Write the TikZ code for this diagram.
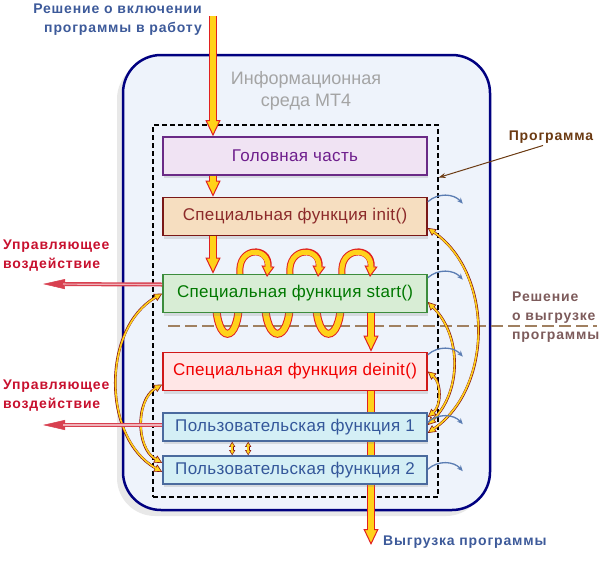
\documentclass[tikz,border=0pt]{standalone}
\usepackage{fontspec}
\setmainfont{Liberation Sans}
\usetikzlibrary{arrows.meta,shadows}

\definecolor{envfill}{HTML}{EEF3FB}
\definecolor{envline}{HTML}{000080}
\definecolor{envtext}{HTML}{A4A4A4}
\definecolor{headfill}{HTML}{F0E3F3}
\definecolor{headline}{HTML}{6A2A86}
\definecolor{headtext}{HTML}{6E1E8C}
\definecolor{initfill}{HTML}{F6DEC0}
\definecolor{initline}{HTML}{7A1818}
\definecolor{inittext}{HTML}{8C2A2A}
\definecolor{startfill}{HTML}{D8EDD5}
\definecolor{startline}{HTML}{3C8C3C}
\definecolor{starttext}{HTML}{007800}
\definecolor{deinitfill}{HTML}{FFE6E6}
\definecolor{deinitline}{HTML}{D01818}
\definecolor{deinittext}{HTML}{F00000}
\definecolor{userfill}{HTML}{D4EFF5}
\definecolor{userline}{HTML}{4A6A9E}
\definecolor{usertext}{HTML}{34579A}
\definecolor{notetext}{HTML}{3D5A9A}
\definecolor{acttext}{HTML}{C8102E}
\definecolor{progtext}{HTML}{6B3A12}
\definecolor{cuttext}{HTML}{7D5B5B}
\definecolor{cutline}{HTML}{A08060}
\definecolor{ribbonfill}{HTML}{FFD21A}
\definecolor{ribbonline}{HTML}{E02020}
\definecolor{retline}{HTML}{5B7DB3}
\definecolor{actline}{HTML}{D84050}

\begin{document}
\begin{tikzpicture}[x=1pt,y=1pt]
        \tikzset{env/.style = {draw=envline, line width=2.5pt, fill=envfill, rounded corners=38pt,
                 minimum width=367pt, minimum height=455pt,
                 drop shadow={opacity=0.18, shadow xshift=-6pt, shadow yshift=-6pt}}};
        \tikzset{envtitle/.style = {text=envtext, align=center, font=\fontsize{18}{22}\selectfont}};
        \tikzset{progbox/.style = {draw, line width=1.3pt, dash pattern=on 5pt off 3pt,
                 minimum width=285pt, minimum height=372pt}};
        \tikzset{block/.style = {draw, line width=1.6pt, minimum width=264pt, minimum height=38pt,
                 font=\fontsize{17}{19}\selectfont\addfontfeatures{LetterSpace=2},
                 drop shadow={opacity=0.22, shadow xshift=1pt, shadow yshift=-3pt}}};
        \tikzset{userblock/.style = {block, minimum height=28pt, fill=userfill, draw=userline, text=usertext}};
        \tikzset{note/.style = {inner sep=0pt, font=\fontsize{14}{19}\selectfont\bfseries\addfontfeatures{LetterSpace=6}}};
        \tikzset{ribbon/.style = {draw=ribbonline, line width=8pt,
                 postaction={draw=ribbonfill, line width=6pt}}};
        \tikzset{flow/.style = {draw=ribbonline, line width=8pt,
                 -{Triangle[length=16pt,width=15pt,fill=ribbonfill,line width=1pt]},
                 postaction={draw=ribbonfill, line width=6pt, -, shorten >=14pt}}};
        \tikzset{loop/.style = {draw=ribbonline, line width=7pt,
                 -{Triangle[length=11pt,width=13pt,fill=ribbonfill,line width=1pt]},
                 postaction={draw=ribbonfill, line width=5pt, -, shorten >=9pt}}};
        \tikzset{call/.style = {draw=ribbonline!60!black, line width=2.6pt,
                 {Triangle[length=8pt,width=8pt,fill=ribbonfill,line width=0.6pt]}-{Triangle[length=8pt,width=8pt,fill=ribbonfill,line width=0.6pt]},
                 postaction={draw=ribbonfill, line width=1.6pt, -, shorten >=7pt, shorten <=7pt}}};
        \tikzset{tinycall/.style = {call,
                 {Triangle[length=5pt,width=6pt,fill=ribbonfill,line width=0.5pt]}-{Triangle[length=5pt,width=6pt,fill=ribbonfill,line width=0.5pt]},
                 postaction={draw=ribbonfill, line width=1.6pt, -, shorten >=4pt, shorten <=4pt}}};
        \tikzset{act/.style = {draw=actline, line width=4pt,
                 -{Triangle[length=22pt,width=10pt,fill=actline,line width=0.5pt]},
                 postaction={draw=actline!40!white, line width=1.2pt, -, shorten >=20pt}}};
        \tikzset{ret/.style = {draw=retline, line width=1.3pt, -{Stealth[length=6pt,width=5pt]}}};
        \tikzset{pointer/.style = {draw=progtext, line width=1pt, -{Stealth[length=7pt,width=5pt]}}};
        \useasboundingbox (0,0) rectangle (613,-560);

        % MT4 environment and program frame
        \node[env] (mt4) at (306.5,-282.5) {};
        \node[envtitle] (mt4name) at (306,-91) {Информационная\\среда MT4};
        \node[progbox] (prog) at (295.5,-311) {};

        % unloading boundary
        \coordinate (cutL) at (168,-326);
        \coordinate (cutR) at (597,-326);
        \draw[draw=cutline, line width=2.6pt, dash pattern=on 12pt off 5pt] (cutL) -- (cutR);

        \coordinate (in) at (213,-16);
        \coordinate (out) at (371,-545);

        \node[block, fill=headfill, draw=headline, text=headtext] (head) at (295,-156) {Головная часть};
        \node[block, fill=initfill, draw=initline, text=inittext] (init) at (295,-216.5) {Специальная функция init()};

        % helix below start()
        \draw[ribbon] (216,-300) .. controls (216,-345) and (239,-345) .. (239,-300);
        \draw[ribbon] (265,-300) .. controls (265,-345) and (290,-345) .. (290,-300);
        \draw[ribbon] (316,-300) .. controls (316,-345) and (341,-345) .. (341,-300);

        \node[block, fill=startfill, draw=startline, text=starttext] (start) at (295,-293.5) {Специальная функция start()};
        \node[block, fill=deinitfill, draw=deinitline, text=deinittext] (deinit) at (295,-371.5) {Специальная функция deinit()};

        \draw[flow] (out |- deinit.south) -- (out);

        \node[userblock] (user1) at (295,-427) {Пользовательская функция 1};
        \node[userblock] (user2) at (295,-470) {Пользовательская функция 2};

        \draw[flow] (in) -- (in |- head.north);
        \draw[flow] (in |- head.south) -- (in |- init.north);
        \draw[flow] (in |- init.south) -- (in |- start.north);
        \draw[flow] (out |- start.south) -- (out |- deinit.north);

        % helix above start()
        \draw[loop] (240,-274) .. controls (237,-246) and (270,-246) .. (267,-277);
        \draw[loop] (290,-274) .. controls (287,-246) and (321,-246) .. (318,-277);
        \draw[loop] (342,-274) .. controls (339,-246) and (373,-246) .. (370,-277);

        % calls of user functions
        \draw[call] ([yshift=-11.5pt]init.east) to[bend left=55] ([yshift=-6pt]user1.east);
        \draw[call] ([yshift=-8.5pt]start.east) to[bend left=45] ([yshift=2pt]user1.east);
        \draw[call] (deinit.east) to[bend left=50] ([yshift=10pt]user1.east);
        \draw[call] (start.west) to[bend right=60] ([yshift=-2pt]user2.west);
        \draw[call] ([yshift=-13pt]deinit.west) to[bend right=60] ([yshift=7pt]user2.west);
        \foreach \dx in {70,86}
            \draw[tinycall] ([xshift=\dx pt]user1.south west) -- ([xshift=\dx pt]user2.north west);

        % returns to the terminal
        \foreach \b/\dy in {init/-5, start/-4, deinit/-3, user1/-10, user2/-14} {
            \coordinate (\b-ret) at ([xshift=35pt,yshift=\dy pt-2pt]\b.north east);
            \draw[ret] ([yshift=\dy pt]\b.north east) to[bend left=45] (\b-ret);
        }

        % control actions
        \coordinate (act1) at (43,-284);
        \coordinate (act2) at (43,-425);
        \draw[act] ([yshift=9pt]start.west) -- (act1);
        \draw[act] ([yshift=2pt]user1.west) -- (act2);

        % labels
        \node[note, text=notetext, align=right, anchor=east] (launch) at (202,-20) {Решение о включении\\программы в работу};
        \node[note, text=notetext, anchor=west] (unload) at (383,-542) {Выгрузка программы};
        \node[note, text=acttext, align=left, anchor=west] (act1txt) at (3,-256) {Управляющее\\воздействие};
        \node[note, text=acttext, align=left, anchor=west] (act2txt) at (3,-396) {Управляющее\\воздействие};
        \node[note, text=progtext] (progtxt) at (551,-137) {Программа};
        \node[note, text=cuttext, align=left, anchor=west] (cuttxt) at (512,-317) {Решение\\о выгрузке\\программы};
        \draw[pointer] ([xshift=-8pt,yshift=-2pt]progtxt.south) -- (prog.43.7);
    \end{tikzpicture}
\end{document}
